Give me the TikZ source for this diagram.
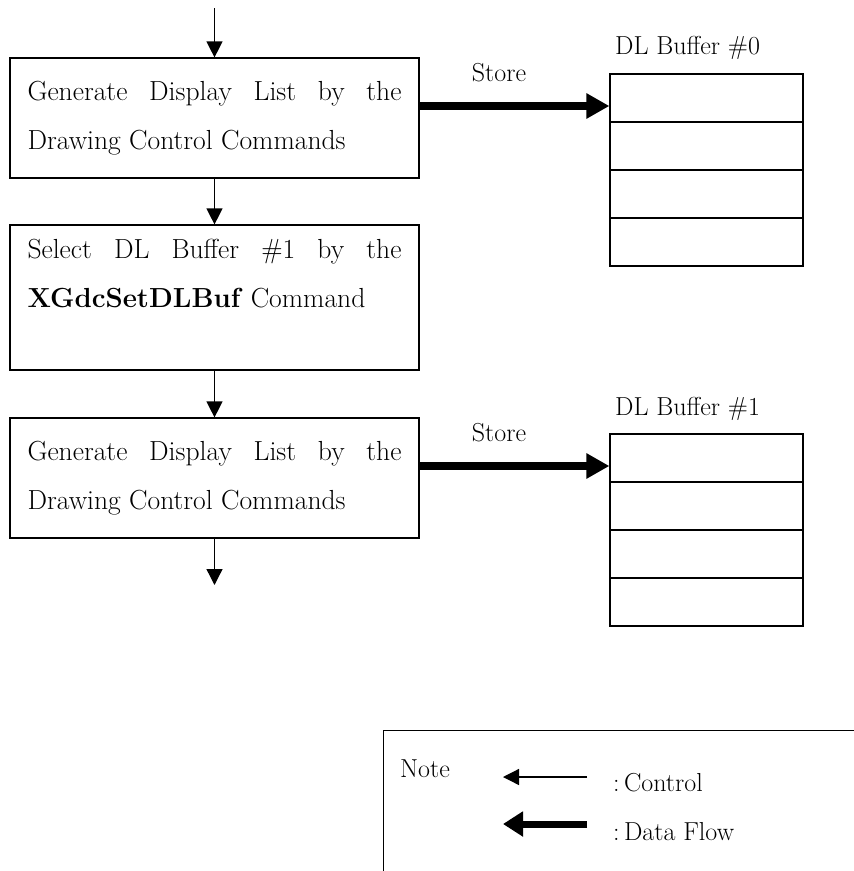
\documentclass[tikz,border=0pt]{standalone}
\usepackage{fontspec}
\usetikzlibrary{arrows.meta}
\tikzset{
  procbox/.style={draw, line width=1.2pt, minimum width=409pt, text width=374pt, inner xsep=17.5pt, align=justify, font=\fontsize{27.6}{49}\selectfont},
  bufcell/.style={draw, line width=1.2pt, minimum width=193pt, minimum height=48pt, inner sep=0pt},
  lbl/.style={inner sep=0pt, font=\fontsize{26}{28}\selectfont},
  ctrl/.style={line width=1.3pt, -{Triangle[length=16pt,width=16pt]}},
  dataflow/.style={line width=8pt, -{Triangle[length=23pt,width=24pt]}},
}
\begin{document}
\begin{tikzpicture}[x=1pt,y=-1pt]
\useasboundingbox (0,0) rectangle (854,871);

\node (gen0) at (214.5,118) [procbox, minimum height=120pt] {Generate Display List by the\linebreak Drawing Control Commands};
\node (sel1) at (214.5,297.5) [procbox, minimum height=145pt] {Select DL Buffer \#1 by the\linebreak \textbf{XGdcSetDLBuf} Command\\\mbox{}};
\node (gen1) at (214.5,478) [procbox, minimum height=120pt] {Generate Display List by the\linebreak Drawing Control Commands};

\coordinate (start) at (214.5,8);
\coordinate (finish) at (214.5,585);
\draw [ctrl] (start) -- (gen0);
\draw [ctrl] (gen0) -- (sel1);
\draw [ctrl] (sel1) -- (gen1);
\draw [ctrl] (gen1) -- (finish);

\foreach \row/\yy in {1/98,2/146,3/194,4/242}
  \node (bufa\row) at (706.5,\yy) [bufcell] {};
\foreach \row/\yy in {1/458,2/506,3/554,4/602}
  \node (bufb\row) at (706.5,\yy) [bufcell] {};

\node (bufalbl) at (615,48) [lbl, anchor=west] {DL Buffer \#0};
\node (bufblbl) at (615,409) [lbl, anchor=west] {DL Buffer \#1};

\coordinate (ina) at (bufa1.west |- 0,106);
\coordinate (inb) at (bufb1.west |- 0,466);
\draw [dataflow] (gen0.east |- ina) -- (ina);
\draw [dataflow] (gen1.east |- inb) -- (inb);
\node (storea) at (499,73) [lbl] {Store};
\node (storeb) at (499,433) [lbl] {Store};

\node (notebox) at (383,730) [draw, line width=1.2pt, anchor=north west, minimum width=520pt, minimum height=200pt] {};
\node (note) at (400,769) [lbl, anchor=west] {Note};
\coordinate (ctlR) at (587,777);
\coordinate (ctlL) at (503,777);
\draw [ctrl] (ctlR) -- (ctlL);
\node (ctltxt) at (613,783) [lbl, anchor=west] {:\,Control};
\coordinate (dfR) at (587,824);
\coordinate (dfL) at (503,824);
\draw [line width=7pt, -{Triangle[length=20pt,width=24pt]}] (dfR) -- (dfL);
\node (dftxt) at (613,832) [lbl, anchor=west] {:\,Data Flow};
\end{tikzpicture}
\end{document}
